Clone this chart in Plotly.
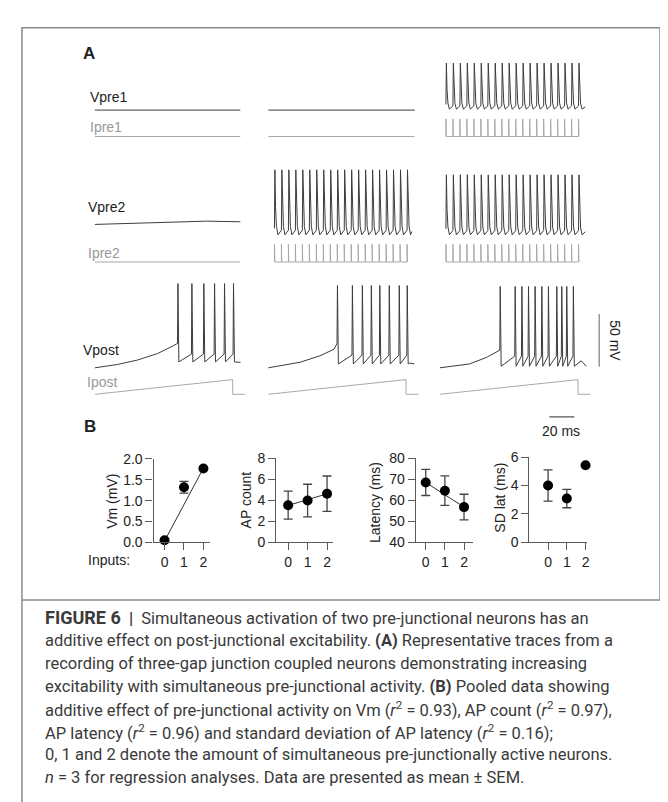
import plotly.graph_objects as go

W, H = 668, 802

# ======================= DATA =======================
# Panel B (pooled data, mean +/- SEM)
inputs = [0, 1, 2]
vm_mean = [0.05, 1.32, 1.77]
vm_sem = [0.03, 0.14, 0.03]
vm_fit = [0.03, 1.78]
ap_mean = [3.52, 3.96, 4.61]
ap_sem = [1.33, 1.55, 1.68]
ap_fit = [3.50, 4.60]
lat_mean = [68.4, 64.5, 56.7]
lat_sem = [6.2, 7.0, 6.1]
lat_fit = [68.4, 56.7]
sdl_mean = [4.0, 3.08, 5.42]
sdl_sem = [1.1, 0.65, 0.0]

vm_ticks = [0, 0.5, 1.0, 1.5, 2.0]
ap_ticks = [0, 2, 4, 6, 8]
lat_ticks = [40, 50, 60, 70, 80]
sdl_ticks = [0, 2, 4, 6]

# Panel A (times in ms from sweep start, voltages in mV, currents in nA / pA)
stim_times = [5.0, 10.6, 16.2, 21.8, 27.4, 33.0, 38.6, 44.2, 49.8, 55.4,
              61.0, 66.6, 72.2, 77.8, 83.4, 89.0, 94.6, 100.2, 105.8, 111.4]
stim_amp_nA = 2.0

vpre1_rest = -64.0
vpre1_end = [116.8, 117.6]
vpre1_spike_peak = -19.6
vpre1_spike_trough = -63.1
vpre1_spike_end = 116.8

vpre2_col1_t = [0, 32, 66.4, 90, 116.8]
vpre2_col1_v = [-63.7, -62.6, -60.9, -60.6, -61.2]
vpre2_col2_peak, vpre2_col2_trough, vpre2_col2_end = -12.1, -73.5, 115.2
vpre2_col3_peak, vpre2_col3_trough, vpre2_col3_end = -16.8, -73.5, 116.8

ipre_end = [116.8, 117.4]

vpost_ramp_t = [[0, 18.4, 34.4, 50.4, 62.4, 66.4],
                [0, 25.6, 41.6, 52.8, 55.2],
                [0, 24.0, 37.6, 48.2]]
vpost_ramp_v = [[-70, -66.8, -62.6, -56.5, -49.5, -47.0],
                [-70, -64.7, -58.6, -52.4, -47.0],
                [-70, -66.3, -60.1, -53.3]]
vpost_spikes = [[66.4, 77.6, 87.2, 95.8, 103.8, 111.0],
                [55.2, 67.2, 75.2, 82.4, 89.2, 96.8, 104.8, 111.2],
                [48.2, 60.2, 65.6, 70.9, 76.2, 81.6, 86.9, 93.6, 97.6, 101.6, 106.9]]
vpost_peak = [9.6, 7.8, 6.9]
vpost_trough = [-64.4, -66.3, -68.5]
vpost_thr = [-57.0, -58.0, -59.0]
vpost_tail_t = [[113.0, 117.0], [113.5, 117.4], [113.6, 117.6]]
vpost_tail_v = [[-64.6, -64.8], [-65.5, -66.3], [-63.3, -68.5]]

ipost_amp_pA = 150
ipost_off = [110.7, 110.6, 111.0]
ipost_end = [120.6, 120.6, 120.8]

scale_mV = 50
scale_ms = 20

caption_lines = [
    "<b><span style='font-size:18px'>FIGURE 6</span>&nbsp;&nbsp;|&nbsp;</b> Simultaneous activation of two pre-junctional neurons has an",
    "additive effect on post-junctional excitability. <b>(A)</b> Representative traces from a",
    "recording of three-gap junction coupled neurons demonstrating increasing",
    "excitability with simultaneous pre-junctional activity. <b>(B)</b> Pooled data showing",
    "additive effect of pre-junctional activity on Vm (<i>r</i><sup>2</sup> = 0.93), AP count (<i>r</i><sup>2</sup> = 0.97),",
    "AP latency (<i>r</i><sup>2</sup> = 0.96) and standard deviation of AP latency (<i>r</i><sup>2</sup> = 0.16);",
    "0, 1 and 2 denote the amount of simultaneous pre-junctionally active neurons.",
    "<i>n</i> = 3 for regression analyses. Data are presented as mean \u00b1 SEM.",
]

# ======================= HELPERS =======================
PX_MS = 1.25   # px per ms
PX_MV = 1.08   # px per mV
V_COL = "#3c3c3c"
I_COL = "#a8a8a8"
FONT = "Liberation Sans, Arial, sans-serif"
CAP_FONT = "Roboto, Liberation Sans, sans-serif"


def xdom(p0, p1):
    return [p0 / W, p1 / W]


def ydom(ptop, pbot):
    return [1 - pbot / H, 1 - ptop / H]


def yrng(ptop, pbot, ref_p, ref_v, ppu):
    return [ref_v - (pbot - ref_p) / ppu, ref_v + (ref_p - ptop) / ppu]


def spike_train(times, peak, trough, t_end):
    amp = peak - trough
    xs, ys = [], []
    for i, ts in enumerate(times):
        base = trough + (0.10 if i == 0 else 0.07) * amp
        xs += [ts, ts + 0.35, ts + 0.9, ts + 1.6, ts + 2.8]
        ys += [base, peak, trough + 0.42 * amp, trough + 0.13 * amp, trough]
    xs.append(t_end)
    ys.append(trough + 0.05 * amp)
    return xs, ys


def pulse_train(times, amp):
    xs, ys = [times[0]], [0]
    for ts in times:
        xs += [ts, ts, ts + 0.3, ts + 0.3]
        ys += [0, amp, amp, 0]
    return xs, ys


def vpost(i):
    xs = list(vpost_ramp_t[i])
    ys = list(vpost_ramp_v[i])
    for k, ts in enumerate(vpost_spikes[i]):
        if k > 0:
            xs.append(ts)
            ys.append(vpost_thr[i])
        xs += [ts + 0.35, ts + 1.1]
        ys += [vpost_peak[i], vpost_trough[i]]
    xs += vpost_tail_t[i]
    ys += vpost_tail_v[i]
    return xs, ys


fig = go.Figure()


def line(x, y, xa, ya, color, width=1.0):
    fig.add_trace(go.Scatter(x=x, y=y, xaxis=xa, yaxis=ya, mode="lines",
                             line=dict(color=color, width=width),
                             hoverinfo="skip", showlegend=False))


# ---------- Panel A traces ----------
# rows: Vpre1 (y), Ipre1 (y2), Vpre2 (y3), Ipre2 (y4), Vpost (y5), Ipost (y6)
line([0, vpre1_end[0]], [vpre1_rest, vpre1_rest], "x", "y", V_COL)
line([0, vpre1_end[1]], [vpre1_rest, vpre1_rest], "x2", "y", V_COL)
sx, sy = spike_train(stim_times, vpre1_spike_peak, vpre1_spike_trough, vpre1_spike_end)
line(sx, sy, "x3", "y", V_COL)

line([0, ipre_end[0]], [0, 0], "x", "y2", I_COL)
line([0, ipre_end[1]], [0, 0], "x2", "y2", I_COL)
px_, py_ = pulse_train(stim_times, stim_amp_nA)
line(px_, py_, "x3", "y2", I_COL)

line(vpre2_col1_t, vpre2_col1_v, "x", "y3", V_COL)
sx, sy = spike_train(stim_times, vpre2_col2_peak, vpre2_col2_trough, vpre2_col2_end)
line(sx, sy, "x2", "y3", V_COL)
sx, sy = spike_train(stim_times, vpre2_col3_peak, vpre2_col3_trough, vpre2_col3_end)
line(sx, sy, "x3", "y3", V_COL)

line([0, ipre_end[0]], [0, 0], "x", "y4", I_COL)
line(px_, py_, "x2", "y4", I_COL)
line(px_, py_, "x3", "y4", I_COL)

for i, xa in enumerate(["x", "x2", "x3"]):
    vx, vy = vpost(i)
    line(vx, vy, xa, "y5", V_COL)
    line([0, ipost_off[i], ipost_off[i], ipost_end[i]], [0, ipost_amp_pA, 0, 0], xa, "y6", I_COL)

# scale bars (on column-3 time axis and Vpost voltage axis)
bar_t = (593 - 433) / PX_MS
bar_v0 = -70 + (359 - 358) / PX_MV
line([bar_t, bar_t], [bar_v0, bar_v0 + scale_mV], "x3", "y5", "#888888", 1.3)
hb_t0 = (543 - 433) / PX_MS
hb_v = -70 - (409 - 359) / PX_MV
line([hb_t0, hb_t0 + scale_ms], [hb_v, hb_v], "x3", "y5", "#555555", 1.3)

# ---------- Panel B ----------
panels = [
    ("x4", "y7", vm_mean, vm_sem, vm_fit),
    ("x5", "y8", ap_mean, ap_sem, ap_fit),
    ("x6", "y9", lat_mean, lat_sem, lat_fit),
    ("x7", "y10", sdl_mean, sdl_sem, None),
]
for xa, ya, m, s, fit in panels:
    if fit is not None:
        fig.add_trace(go.Scatter(x=[inputs[0], inputs[-1]], y=fit, xaxis=xa, yaxis=ya,
                                 mode="lines", line=dict(color="#333333", width=1),
                                 hoverinfo="skip", showlegend=False, cliponaxis=False))
    fig.add_trace(go.Scatter(x=inputs, y=m, xaxis=xa, yaxis=ya, mode="markers",
                             marker=dict(size=10, color="black"),
                             error_y=dict(type="data", array=s, color="#444444",
                                          thickness=1.3, width=4.5),
                             hoverinfo="skip", showlegend=False, cliponaxis=False))

# ======================= LAYOUT =======================
hidden = dict(visible=False, showgrid=False, zeroline=False, fixedrange=True)
lay = dict(
    width=W, height=H, margin=dict(l=0, r=0, t=0, b=0),
    paper_bgcolor="white", plot_bgcolor="rgba(0,0,0,0)",
    font=dict(family=FONT, size=14, color="#222222"),
    showlegend=False,
)
col_px = [(87, 247), (261, 421), (433, 600)]
for i, (p0, p1) in enumerate(col_px):
    key = "xaxis" if i == 0 else "xaxis%d" % (i + 1)
    lay[key] = dict(hidden, domain=xdom(p0, p1), range=[0, (p1 - p0) / PX_MS], anchor="y5")

row_specs = [  # (ptop, pbot, ref_px, ref_val, px_per_unit)
    (30, 102, 96, vpre1_rest, PX_MV),
    (100, 130, 123, 0, 9.0),
    (140, 228, 213, -64.0, PX_MV),
    (226, 258, 251, 0, 9.0),
    (262, 415, 359, -70.0, PX_MV),
    (362, 392, 386, 0, 0.1),
]
for i, (pt, pb, rp, rv, ppu) in enumerate(row_specs):
    key = "yaxis" if i == 0 else "yaxis%d" % (i + 1)
    lay[key] = dict(hidden, domain=ydom(pt, pb), range=yrng(pt, pb, rp, rv, ppu), anchor="x")

axcol = "#5a5a5a"
vis = dict(showline=True, linecolor=axcol, linewidth=1.3, ticks="outside", ticklen=7,
           tickwidth=1.3, tickcolor=axcol, showgrid=False, zeroline=False, fixedrange=True,
           tickfont=dict(family=FONT, size=14, color="#222222"))
bspec = [
    ("xaxis4", "yaxis7", (146, 203), 157, 19.5, (452, 537), [0, 2], vm_ticks, ".1f"),
    ("xaxis5", "yaxis8", (269, 326), 281, 19.5, (451, 537), [0, 8], ap_ticks, "d"),
    ("xaxis6", "yaxis9", (409, 466), 419, 19.2, (451, 537), [40, 80], lat_ticks, "d"),
    ("xaxis7", "yaxis10", (523, 581), 541.7, 18.8, (450, 537), [0, 6], sdl_ticks, "d"),
]
for xk, yk, (l, r), t0, sp, (yt, yb), yr, yt_vals, fmt in bspec:
    lay[xk] = dict(vis, domain=xdom(l, r), range=[(l - t0) / sp, (r - t0) / sp],
                   anchor=yk.replace("axis", ""), tickvals=inputs, ticktext=[str(v) for v in inputs])
    lay[yk] = dict(vis, domain=ydom(yt, yb), range=yr, anchor=xk.replace("axis", ""),
                   tickvals=yt_vals, tickformat=fmt)

fig.update_layout(**lay)


def ann(text, px, py, size=14, color="#222222", xanchor="left", angle=0, bold=False, family=FONT):
    font = dict(family=family, size=size, color=color)
    if bold:
        font["weight"] = "bold"
    fig.add_annotation(text=text, x=px / W, y=1 - py / H, xref="paper", yref="paper",
                       xanchor=xanchor, yanchor="middle", showarrow=False, textangle=angle,
                       font=font)


ann("A", 73, 38, size=17, bold=True)
ann("B", 74, 419, size=17, bold=True)
ann("Vpre1", 80, 83)
ann("Ipre1", 80, 113, color="#999999")
ann("Vpre2", 78, 195)
ann("Ipre2", 78, 242, color="#999999")
ann("Vpost", 73, 341)
ann("Ipost", 77, 373, color="#999999")
ann("50 mV", 608, 331, xanchor="center", angle=90)
ann("20 ms", 555, 423, xanchor="center")
ann("Inputs:", 78, 555)
ann("Vm (mV)", 104, 495, xanchor="center", angle=-90)
ann("AP count", 239, 494, xanchor="center", angle=-90)
ann("Latency (ms)", 368, 496, xanchor="center", angle=-90)
ann("SD lat (ms)", 494, 492, xanchor="center", angle=-90)

cap_y0, cap_dy = 614, 23.3
for i, t in enumerate(caption_lines):
    ann(t, 35, cap_y0 + i * cap_dy, size=16.5, color="#3a3a3a", family=CAP_FONT)

# frame
fig.add_shape(type="rect", xref="paper", yref="paper", x0=14 / W, x1=654 / W,
              y0=1 - 596 / H, y1=1 - 12 / H, line=dict(color="#8a8a8a", width=1.5))
fig.add_shape(type="line", xref="paper", yref="paper", x0=14 / W, x1=14 / W,
              y0=0, y1=1 - 596 / H, line=dict(color="#8a8a8a", width=1.5))

fig.write_html("out.html")
